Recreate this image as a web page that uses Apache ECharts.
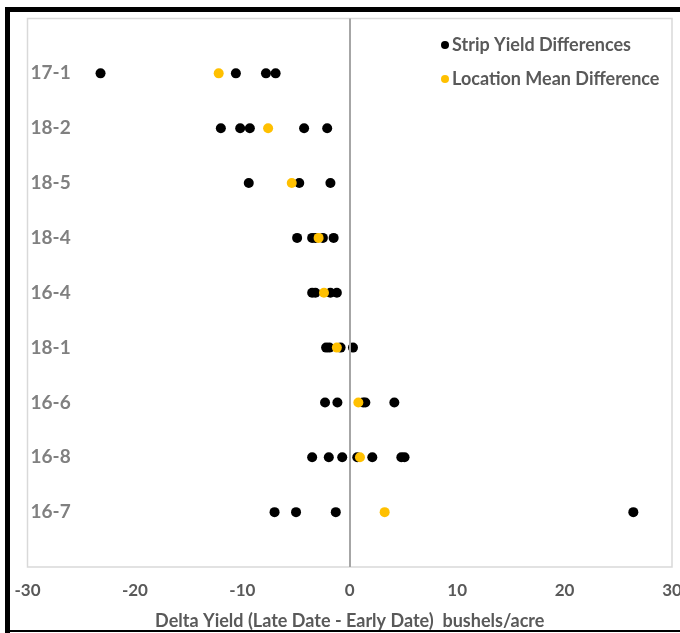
<!DOCTYPE html>
<html>
<head>
<meta charset="utf-8">
<script src="https://cdn.jsdelivr.net/npm/echarts@6/dist/echarts.min.js"></script>
<style>html,body{margin:0;padding:0;background:#fff;overflow:hidden}#c{width:680px;height:633px}</style>
</head>
<body>
<div id="c"></div>
<script>
// Locations, top to bottom
var categories = ['17-1','18-2','18-5','18-4','16-4','18-1','16-6','16-8','16-7'];
// Strip yield differences per location (bushels/acre)
var stripValues = [
  [-23.2, -10.6, -7.8, -6.9],
  [-12.0, -10.2, -9.3, -4.25, -2.1],
  [-9.4, -4.7, -1.8],
  [-4.9, -3.5, -3.2, -2.5, -1.5],
  [-3.5, -3.2, -1.8, -1.2],
  [-2.2, -1.9, -0.85, 0.3],
  [-2.3, -1.15, 1.25, 1.45, 4.15],
  [-3.5, -1.95, -0.7, 0.7, 2.1, 4.8, 5.1],
  [-7.0, -5.0, -1.3, 26.4]
];
// Location mean differences
var meanValues = [-12.2, -7.6, -5.4, -2.9, -2.4, -1.2, 0.8, 0.95, 3.25];
var xTicks = [-30, -20, -10, 0, 10, 20, 30];
var seriesNames = ['Strip Yield Differences', 'Location Mean Difference'];

var n = categories.length;
function yPos(i) { return n - i; }
var stripData = [];
stripValues.forEach(function (arr, i) {
  arr.forEach(function (v) { stripData.push([v, yPos(i)]); });
});
var meanData = meanValues.map(function (v, i) { return [v, yPos(i)]; });

var FONT = 'Lato';
var chart = echarts.init(document.getElementById('c'), null, { width: 680, height: 633 });
chart.setOption({
  animation: false,
  backgroundColor: '#fff',
  grid: {
    left: 27.5, right: 8, top: 18.5, bottom: 66,
    containLabel: false, outerBoundsMode: 'none',
    show: true, borderColor: '#d9d9d9', borderWidth: 1.5, backgroundColor: 'transparent'
  },
  legend: {
    orient: 'vertical', left: 436, top: 31,
    itemWidth: 8, itemHeight: 8, itemGap: 16,
    icon: 'circle',
    data: seriesNames,
    textStyle: { fontFamily: FONT, fontWeight: 'bold', fontSize: 18, color: '#595959', padding: [0, 0, 0, -2] }
  },
  xAxis: {
    type: 'value', min: xTicks[0], max: xTicks[xTicks.length - 1], interval: 10,
    axisLine: { show: false }, axisTick: { show: false }, splitLine: { show: false },
    axisLabel: { margin: 15, fontFamily: FONT, fontWeight: 'bold', fontSize: 17, color: '#595959', hideOverlap: false },
    name: 'Delta Yield (Late Date - Early Date)  bushels/acre',
    nameLocation: 'middle', nameGap: 45,
    nameTextStyle: { fontFamily: FONT, fontWeight: 'bold', fontSize: 18, color: '#595959' }
  },
  yAxis: {
    type: 'value', min: 0, max: n + 1, interval: 1,
    axisLine: { show: false }, axisTick: { show: false }, splitLine: { show: false },
    axisLabel: {
      inside: true, margin: 3,
      fontFamily: FONT, fontWeight: 'bold', fontSize: 19, color: '#808080',
      formatter: function (v) {
        var idx = n - v;
        return (idx >= 0 && idx < n && v > 0) ? categories[idx] : '';
      }
    }
  },
  series: [
    {
      name: seriesNames[0], type: 'scatter', symbolSize: 10,
      itemStyle: { color: '#000000', opacity: 1 },
      data: stripData, z: 3,
      markLine: {
        silent: true, symbol: 'none', label: { show: false },
        lineStyle: { color: '#a6a6a6', width: 2, type: 'solid' },
        data: [{ xAxis: 0 }]
      }
    },
    {
      name: seriesNames[1], type: 'scatter', symbolSize: 10,
      itemStyle: { color: '#FFC000', opacity: 1 },
      data: meanData, z: 4
    }
  ],
  graphic: [
    { type: 'line', shape: { x1: 7.5, y1: 7, x2: 7.5, y2: 633 }, style: { stroke: '#000', lineWidth: 5 } },
    { type: 'line', shape: { x1: 5, y1: 9.5, x2: 680, y2: 9.5 }, style: { stroke: '#000', lineWidth: 5 } },
    { type: 'line', shape: { x1: 5, y1: 631, x2: 680, y2: 631 }, style: { stroke: '#000', lineWidth: 2 } }
  ]
});
</script>
</body>
</html>
